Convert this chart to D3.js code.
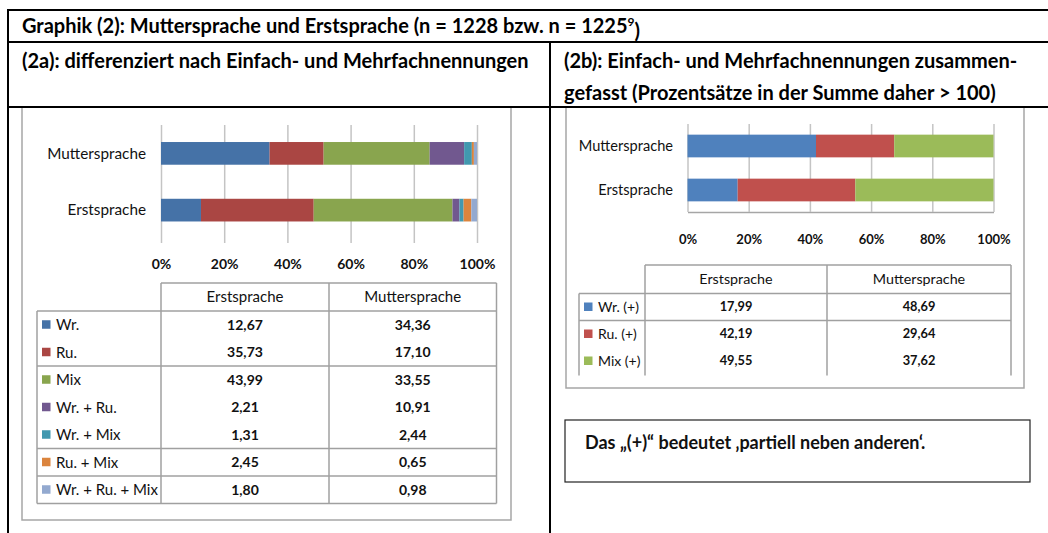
<!DOCTYPE html>
<html>
<head>
<meta charset="utf-8">
<script src="https://cdn.jsdelivr.net/npm/d3@7"></script>
<style>
  body { margin: 0; background: #fff; }
  svg { display: block; font-family: Lato, "Liberation Sans", sans-serif; }
</style>
</head>
<body>
<div id="chart"></div>
<script>
// --- data ---
const categories = ['Muttersprache', 'Erstsprache'];
const tableCols = ['Erstsprache', 'Muttersprache'];
const ticks = [0, 0.2, 0.4, 0.6, 0.8, 1];

// (2a) Einfach- und Mehrfachnennungen
const seriesA = ['Wr.', 'Ru.', 'Mix', 'Wr. + Ru.', 'Wr. + Mix', 'Ru. + Mix', 'Wr. + Ru. + Mix'];
const erstA = [12.67, 35.73, 43.99, 2.21, 1.31, 2.45, 1.80];
const mutterA = [34.36, 17.10, 33.55, 10.91, 2.44, 0.65, 0.98];
const groupBreaksA = [2, 5, 6];

// (2b) zusammengefasst
const seriesB = ['Wr. (+)', 'Ru. (+)', 'Mix (+)'];
const erstB = [17.99, 42.19, 49.55];
const mutterB = [48.69, 29.64, 37.62];
const groupBreaksB = [1];

const colorsA = ['#4572A7', '#AA4643', '#89A54E', '#71588F', '#4198AF', '#DB843D', '#93A9CF'];
const colorsB = ['#4F81BD', '#C0504D', '#9BBB59'];

const de = d3.formatLocale({ decimal: ',', thousands: '.', grouping: [3], currency: ['', ' €'] });
const fmt = de.format('.2f');
const pct = d3.format('.0%');

const W = 1048, H = 533;
const svg = d3.select('#chart').append('svg').attr('width', W).attr('height', H);

// stacked 100% bars
function drawStack(g, o) {
  const rows = categories.map(c => {
    const vals = c === 'Erstsprache' ? o.erst : o.mutter;
    const obj = { cat: c };
    o.series.forEach((s, i) => { obj[s] = vals[i]; });
    return obj;
  });
  const stacked = d3.stack().keys(o.series).offset(d3.stackOffsetExpand)(rows);

  const x = d3.scaleLinear().domain([0, 1]).range([o.x0, o.x1]);
  const y = d3.scaleBand().domain(categories).range([o.y0, o.y1])
    .paddingInner(o.padIn).paddingOuter(o.padOut);
  const color = d3.scaleOrdinal().domain(o.series).range(o.colors);

  const axis = d3.axisBottom(x).tickValues(ticks).tickFormat(pct)
    .tickSize(-(o.axisY - o.gridTop)).tickSizeOuter(0);
  const ax = g.append('g').attr('transform', `translate(0,${o.axisY})`).call(axis);
  ax.selectAll('.tick line').attr('stroke', '#c4c4c4').attr('stroke-width', 1.5);
  if (o.domainLine) ax.select('.domain').attr('stroke', '#a6a6a6').attr('stroke-width', 1.5);
  else ax.select('.domain').remove();
  ax.selectAll('text').attr('y', o.labelOff).attr('dy', '0.35em')
    .attr('font-size', o.tickFont).attr('font-weight', 'bold')
    .attr('font-family', 'Lato, sans-serif').attr('fill', '#111');

  g.append('g').selectAll('g').data(stacked).join('g')
    .attr('fill', d => color(d.key))
    .selectAll('rect').data(d => d).join('rect')
    .attr('x', d => x(d[0]))
    .attr('width', d => x(d[1]) - x(d[0]))
    .attr('y', d => y(d.data.cat))
    .attr('height', y.bandwidth());

  g.append('g').selectAll('text').data(categories).join('text')
    .attr('x', o.labelX).attr('y', d => y(d) + y.bandwidth() / 2)
    .attr('dy', '0.35em').attr('text-anchor', 'end')
    .attr('font-size', o.catFont).attr('fill', '#111').text(d => d);
}

// data table under each chart
function drawTable(g, o) {
  const n = o.series.length;
  const bottom = o.rowTop + n * o.rowH;
  const line = (x1, y1, x2, y2) => g.append('line')
    .attr('x1', x1).attr('y1', y1).attr('x2', x2).attr('y2', y2)
    .attr('stroke', '#a0a0a0').attr('stroke-width', 1.5);

  line(o.colX[0], o.headTop, o.colX[2], o.headTop);
  line(o.leftX, o.rowTop, o.colX[2], o.rowTop);
  o.breaks.forEach(b => line(o.leftX, o.rowTop + b * o.rowH, o.colX[2], o.rowTop + b * o.rowH));
  if (o.closed) line(o.leftX, bottom, o.colX[2], bottom);
  const vb = o.closed ? bottom : bottom + 1;
  line(o.leftX, o.rowTop, o.leftX, vb);
  o.colX.forEach(cx => line(cx, o.headTop, cx, vb));

  tableCols.forEach((c, j) => {
    g.append('text').attr('x', (o.colX[j] + o.colX[j + 1]) / 2)
      .attr('y', (o.headTop + o.rowTop) / 2).attr('dy', '0.35em')
      .attr('text-anchor', 'middle').attr('font-size', o.headFont).attr('fill', '#111').text(c);
  });

  const rows = g.append('g').selectAll('g').data(o.series).join('g')
    .attr('transform', (d, i) => `translate(0,${o.rowTop + (i + 0.5) * o.rowH})`);
  rows.append('rect').attr('x', o.leftX + 5).attr('y', -4.5).attr('width', 8.5).attr('height', 8.5)
    .attr('fill', (d, i) => o.colors[i]);
  rows.append('text').attr('x', o.leftX + 19).attr('dy', '0.35em')
    .attr('font-size', o.labFont).attr('fill', '#111').text(d => d);
  [o.erst, o.mutter].forEach((vals, j) => {
    rows.append('text').attr('x', (o.colX[j] + o.colX[j + 1]) / 2).attr('dy', '0.35em')
      .attr('text-anchor', 'middle').attr('font-size', o.valFont).attr('font-weight', 'bold')
      .attr('fill', '#111').text((d, i) => fmt(vals[i]));
  });
}

// chart frames
svg.append('rect').attr('x', 22).attr('y', 100).attr('width', 489).attr('height', 420)
  .attr('fill', 'none').attr('stroke', '#a6a6a6').attr('stroke-width', 1.5);
svg.append('rect').attr('x', 566).attr('y', 100).attr('width', 458).attr('height', 288)
  .attr('fill', 'none').attr('stroke', '#a6a6a6').attr('stroke-width', 1.5);

drawStack(svg.append('g'), {
  series: seriesA, erst: erstA, mutter: mutterA, colors: colorsA,
  x0: 161, x1: 477, y0: 125, y1: 238.5, padIn: 0.6, padOut: 0.3,
  gridTop: 125, axisY: 243, labelOff: 21, domainLine: false,
  labelX: 146, catFont: 15.3, tickFont: 14
});
drawTable(svg.append('g'), {
  series: seriesA, erst: erstA, mutter: mutterA, colors: colorsA,
  colX: [161, 329, 496.5], leftX: 37, headTop: 283, rowTop: 311, rowH: 27.5,
  breaks: groupBreaksA, closed: true, headFont: 15, labFont: 15, valFont: 14
});

drawStack(svg.append('g'), {
  series: seriesB, erst: erstB, mutter: mutterB, colors: colorsB,
  x0: 687.5, x1: 993.5, y0: 124, y1: 212, padIn: 0.484, padOut: 0.242,
  gridTop: 124, axisY: 212, labelOff: 27, domainLine: true,
  labelX: 673, catFont: 14.6, tickFont: 13
});
drawTable(svg.append('g'), {
  series: seriesB, erst: erstB, mutter: mutterB, colors: colorsB,
  colX: [645, 827, 1011], leftX: 579, headTop: 265, rowTop: 293.5, rowH: 27,
  breaks: groupBreaksB, closed: false, headFont: 14.3, labFont: 14, valFont: 12.8
});

// note box
svg.append('rect').attr('x', 565).attr('y', 420).attr('width', 465).attr('height', 62)
  .attr('fill', 'none').attr('stroke', '#222').attr('stroke-width', 1.2);
svg.append('text').attr('x', 585).attr('y', 443).attr('dy', '0.35em')
  .attr('font-size', 18).attr('font-weight', 'bold').attr('fill', '#111')
  .text('Das \u201E(+)\u201C bedeutet \u201Apartiell neben anderen\u2018.');

// document table (outer frame)
svg.append('rect').attr('x', 8).attr('y', 10).attr('width', W).attr('height', 32).attr('fill', '#fff');
svg.append('rect').attr('x', 8).attr('y', 42).attr('width', W).attr('height', 65).attr('fill', '#fff');
const hl = [10, 42, 107];
hl.forEach(y => svg.append('line').attr('x1', 7).attr('x2', W).attr('y1', y).attr('y2', y)
  .attr('stroke', '#000').attr('stroke-width', 2));
svg.append('line').attr('x1', 8).attr('x2', 8).attr('y1', 9).attr('y2', H)
  .attr('stroke', '#000').attr('stroke-width', 2);
svg.append('line').attr('x1', 550).attr('x2', 550).attr('y1', 42).attr('y2', H)
  .attr('stroke', '#000').attr('stroke-width', 2);

const title = svg.append('text').attr('x', 22).attr('y', 26).attr('dy', '0.35em')
  .attr('font-size', 20).attr('font-weight', 'bold').attr('fill', '#000');
title.append('tspan').text('Graphik (2): Muttersprache und Erstsprache (n = 1228 bzw. n = 1225');
title.append('tspan').attr('font-size', 12).attr('dy', '-0.6em').text('9');
title.append('tspan').attr('dy', '0.6em').text(')');

const head = (x, y, t) => svg.append('text').attr('x', x).attr('y', y).attr('dy', '0.35em')
  .attr('font-size', 20).attr('font-weight', 'bold').attr('fill', '#000').text(t);
head(22, 61, '(2a): differenziert nach Einfach- und Mehrfachnennungen');
head(564, 61, '(2b): Einfach- und Mehrfachnennungen zusammen-');
head(564, 93, 'gefasst (Prozentsätze in der Summe daher > 100)');
</script>
</body>
</html>
